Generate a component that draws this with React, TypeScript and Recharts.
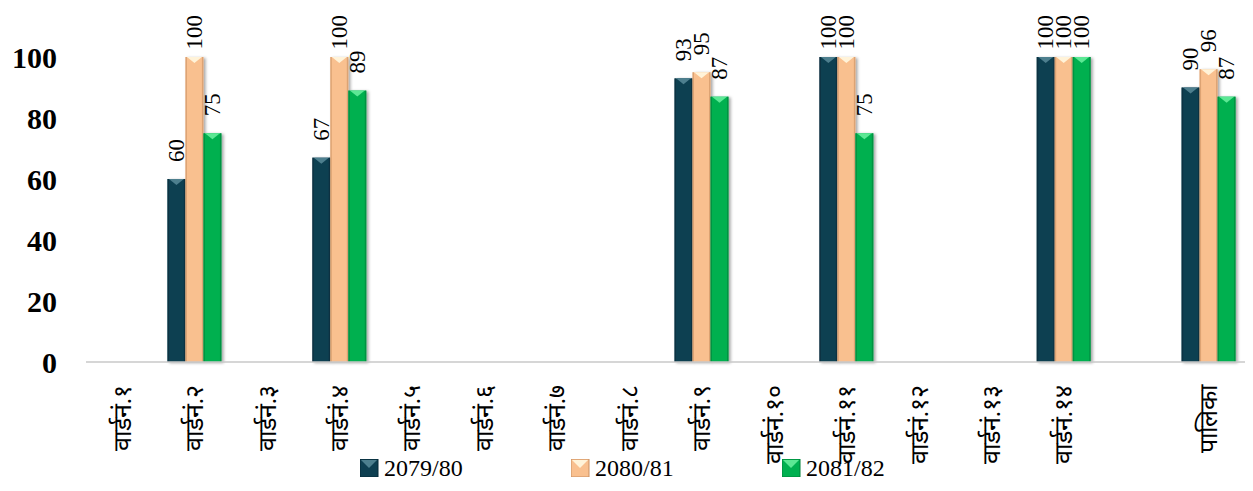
import { BarChart, Bar, XAxis, YAxis, LabelList } from "recharts";

const wards = [
  "वार्डनं.१",
  "वार्डनं.२",
  "वार्डनं.३",
  "वार्डनं.४",
  "वार्डनं.५",
  "वार्डनं.६",
  "वार्डनं.७",
  "वार्डनं.८",
  "वार्डनं.९",
  "वार्डनं.१०",
  "वार्डनं.११",
  "वार्डनं.१२",
  "वार्डनं.१३",
  "वार्डनं.१४",
  "",
  "पालिका",
];

const y7980 = [null, 60, null, 67, null, null, null, null, 93, null, 100, null, null, 100, null, 90];
const y8081 = [null, 100, null, 100, null, null, null, null, 95, null, 100, null, null, 100, null, 96];
const y8182 = [null, 75, null, 89, null, null, null, null, 87, null, 75, null, null, 100, null, 87];

const yTicks = [0, 20, 40, 60, 80, 100];

const series = [
  { key: "y7980", name: "2079/80", fill: "#0e3f51", light: "#4d7f8e", dark: "#062a38" },
  { key: "y8081", name: "2080/81", fill: "#f9c08f", light: "#fff3d9", dark: "#c98f60" },
  { key: "y8182", name: "2081/82", fill: "#00b050", light: "#5ce894", dark: "#008038" },
];

const data = wards.map((name, i) => ({
  name,
  y7980: y7980[i],
  y8081: y8081[i],
  y8182: y8182[i],
}));

const serif = "'Liberation Serif', 'Times New Roman', serif";

function BevelBar(props: any) {
  const { x, y, width, height, fill, light, dark } = props;
  if (!height || height <= 0) return null;
  const e = 1.5;
  return (
    <g filter="url(#barShadow)">
      <rect x={x} y={y} width={width} height={height} fill={fill} />
      <rect x={x} y={y} width={e} height={height} fill={dark} opacity={0.6} />
      <rect x={x + width - e} y={y} width={e} height={height} fill={dark} opacity={0.6} />
      <polygon
        points={`${x + e},${y} ${x + width - e},${y} ${x + width / 2},${y + 6}`}
        fill={light}
      />
    </g>
  );
}

function ValueLabel(props: any) {
  const { x, y, width, value } = props;
  if (value == null) return null;
  const txt = String(value);
  const len = txt.length * 11.5;
  const cx = x + width / 2;
  const cy = Math.max(y - 17, 8 + len);
  return (
    <text
      x={cx}
      y={cy}
      transform={`rotate(-90, ${cx}, ${cy})`}
      textAnchor="start"
      dominantBaseline="central"
      fontFamily={serif}
      fontSize={23}
      fill="#000"
    >
      {txt}
    </text>
  );
}

function WardTick(props: any) {
  const { x, y, payload } = props;
  return (
    <g transform={`translate(${x},${y})`}>
      <text
        transform="rotate(-90)"
        x={-15}
        y={0}
        textAnchor="end"
        dominantBaseline="central"
        fontFamily={serif}
        fontSize={25}
        fill="#000"
      >
        {payload.value}
      </text>
    </g>
  );
}

function LegendBox() {
  return (
    <div style={{ position: "absolute", left: 352, top: 449, display: "flex" }}>
      {series.map((s) => (
        <div key={s.key} style={{ width: 211, display: "flex", alignItems: "center" }}>
          <svg width={19} height={18} style={{ marginRight: 5 }}>
            <rect x={0} y={0} width={18} height={18} fill={s.fill} />
            <polygon points="1,1 17,1 9,9" fill={s.light} />
            <rect x={0} y={0} width={18} height={18} fill="none" stroke={s.dark} strokeWidth={1} />
          </svg>
          <span style={{ fontFamily: serif, fontSize: 24, color: "#000", lineHeight: "24px" }}>
            {s.name}
          </span>
        </div>
      ))}
    </div>
  );
}

export default function App() {
  return (
    <div
      style={{
        position: "relative",
        left: -1,
        top: -2,
        width: 1250,
        height: 490,
        border: "1px solid #d9d9d9",
        boxSizing: "border-box",
        background: "#fff",
      }}
    >
      <BarChart
        width={1248}
        height={488}
        data={data}
        margin={{ top: 50, right: 11, left: 18, bottom: 0 }}
        barSize={18}
        barGap={0}
      >
        <defs>
          <filter id="barShadow" x="-30%" y="-10%" width="160%" height="120%">
            <feDropShadow dx={2} dy={1} stdDeviation={1.8} floodColor="#000" floodOpacity={0.35} />
          </filter>
        </defs>
        <XAxis
          dataKey="name"
          interval={0}
          height={133}
          tickLine={false}
          axisLine={{ stroke: "#c8c8c8", strokeWidth: 1.5 }}
          tick={<WardTick />}
        />
        <YAxis
          domain={[0, 100]}
          ticks={yTicks}
          width={60}
          axisLine={false}
          tickLine={false}
          tickSize={0}
          tickMargin={29}
          tick={{ fontFamily: serif, fontSize: 30, fontWeight: "bold", fill: "#000" }}
        />
        {series.map((s) => (
          <Bar
            key={s.key}
            dataKey={s.key}
            name={s.name}
            fill={s.fill}
            isAnimationActive={false}
            shape={(p: any) => <BevelBar {...p} light={s.light} dark={s.dark} />}
          >
            <LabelList dataKey={s.key} content={<ValueLabel />} />
          </Bar>
        ))}
      </BarChart>
      <LegendBox />
    </div>
  );
}
